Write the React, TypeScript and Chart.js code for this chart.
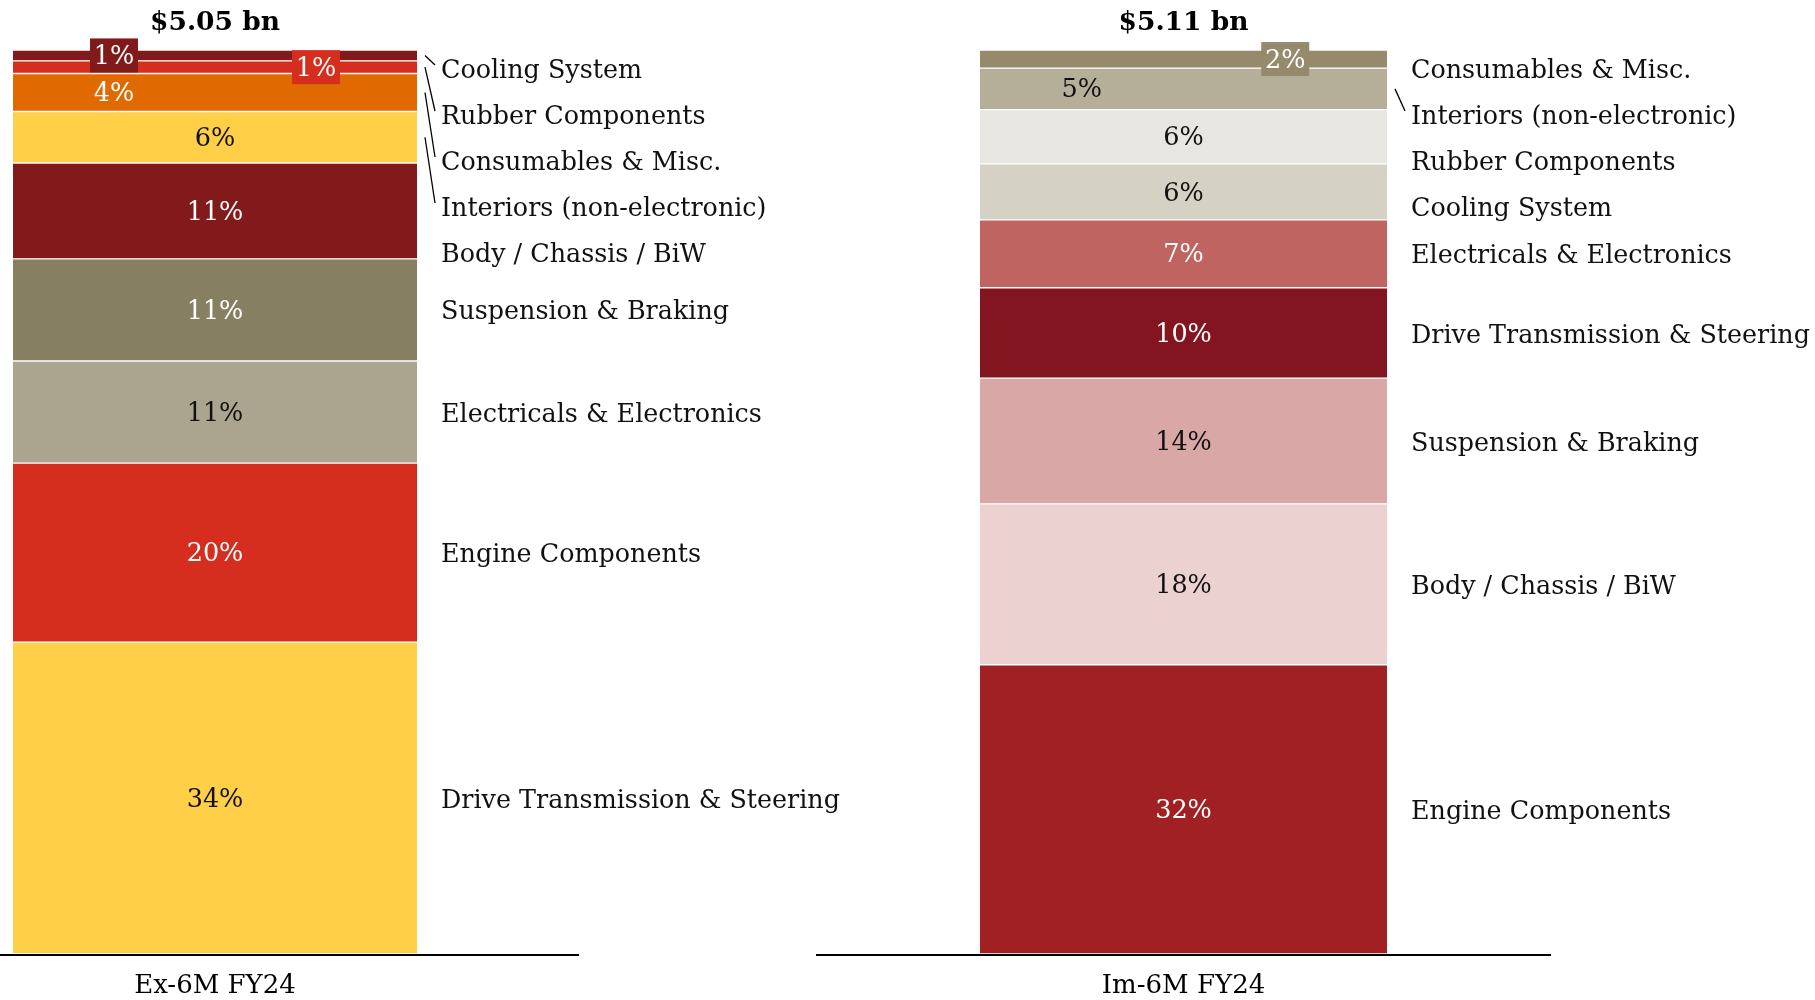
import React, { useEffect, useRef } from "react";
import { Chart, registerables } from "chart.js";

Chart.register(...registerables);

// ---------------- DATA (bottom of stack -> top) ----------------
const EX_CATEGORY = "Ex-6M FY24";
const EX_TOTAL = "$5.05 bn";
const EX_COMPONENTS = [
  "Drive Transmission & Steering",
  "Engine Components",
  "Electricals & Electronics",
  "Suspension & Braking",
  "Body / Chassis / BiW",
  "Interiors (non-electronic)",
  "Consumables & Misc.",
  "Rubber Components",
  "Cooling System",
];
const EX_SHARES = [34.5, 19.8, 11.3, 11.3, 10.6, 5.7, 4.2, 1.4, 1.2];
const EX_LABELS = ["34%", "20%", "11%", "11%", "11%", "6%", "4%", "1%", "1%"];

const IM_CATEGORY = "Im-6M FY24";
const IM_TOTAL = "$5.11 bn";
const IM_COMPONENTS = [
  "Engine Components",
  "Body / Chassis / BiW",
  "Suspension & Braking",
  "Drive Transmission & Steering",
  "Electricals & Electronics",
  "Cooling System",
  "Rubber Components",
  "Interiors (non-electronic)",
  "Consumables & Misc.",
];
const IM_SHARES = [32.0, 17.8, 13.9, 10.0, 7.5, 6.2, 6.0, 4.6, 2.0];
const IM_LABELS = ["32%", "18%", "14%", "10%", "7%", "6%", "6%", "5%", "2%"];

// ---------------- STYLES ----------------
const EX_COLORS = ["#ffcf47", "#d52d1e", "#aba590", "#877f62", "#821a1b", "#ffcf47", "#e06a00", "#d52d1e", "#811a1b"];
const EX_TEXT = ["#111", "#fff", "#111", "#fff", "#fff", "#111", "#fff", "#fff", "#fff"];
const EX_POS = [0.5, 0.5, 0.5, 0.5, 0.5, 0.5, 0.25, 0.75, 0.25];
const EX_BOXED = [false, false, false, false, false, false, false, true, true];
const EX_LEADER = [false, false, false, false, false, true, true, true, true];

const IM_COLORS = ["#a02023", "#ecd1d1", "#d9a7a6", "#82151f", "#c06462", "#d5d1c4", "#e8e6e1", "#b5ae98", "#968a6c"];
const IM_TEXT = ["#fff", "#111", "#111", "#fff", "#fff", "#111", "#111", "#111", "#fff"];
const IM_POS = [0.5, 0.5, 0.5, 0.5, 0.5, 0.5, 0.5, 0.25, 0.75];
const IM_BOXED = [false, false, false, false, false, false, false, false, true];
const IM_LEADER = [false, false, false, false, false, false, false, true, false];

const FONT = '"DejaVu Serif", Georgia, serif';

type Spec = {
  category: string;
  total: string;
  components: string[];
  shares: number[];
  labels: string[];
  colors: string[];
  text: string[];
  pos: number[];
  boxed: boolean[];
  leader: boolean[];
  canvasLeft: number;
  canvasWidth: number;
  padLeft: number;
  padRight: number;
  axisExtL: number;
  axisExtR: number;
};

const SPECS: Spec[] = [
  {
    category: EX_CATEGORY, total: EX_TOTAL, components: EX_COMPONENTS, shares: EX_SHARES, labels: EX_LABELS,
    colors: EX_COLORS, text: EX_TEXT, pos: EX_POS, boxed: EX_BOXED, leader: EX_LEADER,
    canvasLeft: 0, canvasWidth: 900, padLeft: 13, padRight: 900 - 417, axisExtL: 13, axisExtR: 162,
  },
  {
    category: IM_CATEGORY, total: IM_TOTAL, components: IM_COMPONENTS, shares: IM_SHARES, labels: IM_LABELS,
    colors: IM_COLORS, text: IM_TEXT, pos: IM_POS, boxed: IM_BOXED, leader: IM_LEADER,
    canvasLeft: 800, canvasWidth: 1015, padLeft: 180, padRight: 1015 - 587, axisExtL: 164, axisExtR: 164,
  },
];

const H = 1000;

function makePlugin(spec: Spec) {
  return {
    id: "decor",
    afterDatasetsDraw(chart: any) {
      const ctx = chart.ctx as CanvasRenderingContext2D;
      const area = chart.chartArea;
      const n = spec.components.length;
      const bars: { x: number; y: number; base: number; width: number }[] = [];
      for (let i = 0; i < n; i++) {
        const el = chart.getDatasetMeta(i).data[0];
        const p = el.getProps(["x", "y", "base", "width"], true);
        bars.push(p);
      }
      const left = bars[0].x - bars[0].width / 2;
      const right = bars[0].x + bars[0].width / 2;
      const cx = bars[0].x;

      ctx.save();
      // value labels
      ctx.textAlign = "center";
      ctx.textBaseline = "middle";
      ctx.font = `25.5px ${FONT}`;
      for (let i = 0; i < n; i++) {
        const b = bars[i];
        const cy = (b.y + b.base) / 2;
        const x = left + (right - left) * spec.pos[i];
        if (spec.boxed[i]) {
          const w = 48, h = 34;
          ctx.fillStyle = spec.colors[i];
          ctx.fillRect(x - w / 2, cy - h / 2, w, h);
        }
        ctx.fillStyle = spec.text[i];
        ctx.fillText(spec.labels[i], x, cy + 2);
      }

      // category names at the right, top-down with spacing
      ctx.textAlign = "left";
      ctx.font = `25.4px ${FONT}`;
      const minGap = 46;
      let prev = area.top + 18 - minGap;
      for (let i = n - 1; i >= 0; i--) {
        const b = bars[i];
        const cy = (b.y + b.base) / 2;
        const ly = Math.max(cy, prev + minGap);
        prev = ly;
        ctx.fillStyle = "#111";
        ctx.fillText(spec.components[i], right + 24, ly + 3);
        if (spec.leader[i]) {
          ctx.strokeStyle = "#000";
          ctx.lineWidth = 1.3;
          ctx.beginPath();
          ctx.moveTo(right + 8, cy);
          ctx.lineTo(right + 18, ly - 3);
          ctx.stroke();
        }
      }

      // total header
      ctx.textAlign = "center";
      ctx.font = `bold 26.5px ${FONT}`;
      ctx.fillStyle = "#000";
      ctx.fillText(spec.total, cx, area.top - 27);

      // baseline
      ctx.strokeStyle = "#000";
      ctx.lineWidth = 2;
      ctx.beginPath();
      ctx.moveTo(left - spec.axisExtL, area.bottom + 1);
      ctx.lineTo(right + spec.axisExtR, area.bottom + 1);
      ctx.stroke();

      // category label
      ctx.font = `26px ${FONT}`;
      ctx.fillStyle = "#000";
      ctx.fillText(spec.category, cx, area.bottom + 32);
      ctx.restore();
    },
  };
}

function StackChart({ spec }: { spec: Spec }) {
  const ref = useRef<HTMLCanvasElement | null>(null);
  useEffect(() => {
    if (!ref.current) return;
    const chart = new Chart(ref.current, {
      type: "bar",
      data: {
        labels: [spec.category],
        datasets: spec.components.map((name, i) => ({
          label: name,
          data: [spec.shares[i]],
          backgroundColor: spec.colors[i],
          borderColor: "#ffffff",
          borderWidth: { top: 1, bottom: 1, left: 0, right: 0 },
          borderSkipped: false,
          stack: "s",
          barPercentage: 1,
          categoryPercentage: 1,
        })),
      },
      options: {
        responsive: false,
        animation: false,
        devicePixelRatio: 1,
        layout: { padding: { left: spec.padLeft, right: spec.padRight, top: 50, bottom: 46 } },
        scales: {
          x: { display: false, stacked: true },
          y: { display: false, stacked: true, min: 0, max: 100 },
        },
        plugins: { legend: { display: false }, tooltip: { enabled: false } },
      },
      plugins: [makePlugin(spec)],
    } as any);
    return () => chart.destroy();
  }, [spec]);
  return (
    <canvas
      ref={ref}
      width={spec.canvasWidth}
      height={H}
      style={{ position: "absolute", left: spec.canvasLeft, top: 0, width: spec.canvasWidth, height: H }}
    />
  );
}

export default function App() {
  return (
    <div style={{ position: "absolute", left: 0, top: 0, width: 1815, height: 1000, background: "#fff" }}>
      {SPECS.map((s, i) => (
        <StackChart key={i} spec={s} />
      ))}
    </div>
  );
}
